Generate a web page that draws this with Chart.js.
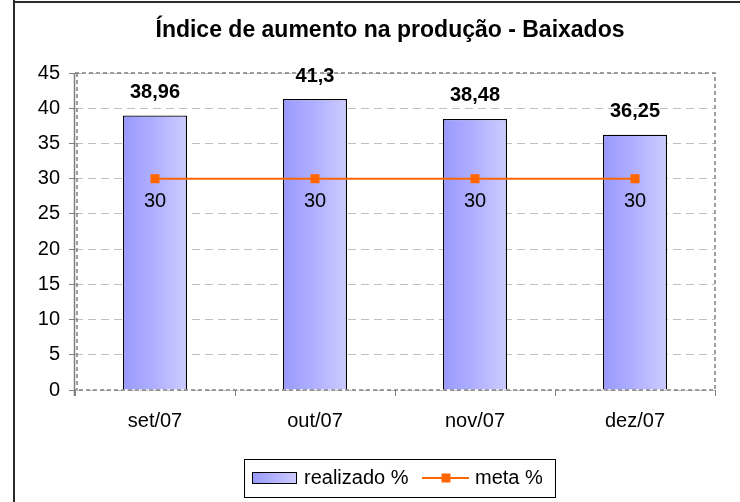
<!DOCTYPE html>
<html>
<head>
<meta charset="utf-8">
<script src="https://cdn.jsdelivr.net/npm/chart.js@4"></script>
<style>
  html,body{margin:0;padding:0;background:#fff;}
  #wrap{width:740px;height:502px;}
</style>
</head>
<body>
<div id="wrap"><canvas id="c" width="740" height="502"></canvas></div>
<script>
// --- Data ---
const months = ['set/07','out/07','nov/07','dez/07'];
const realizado = [38.96, 41.3, 38.48, 36.25];
const meta = [30, 30, 30, 30];
const titleText = 'Índice de aumento na produção - Baixados';
const legendNames = ['realizado %','meta %'];

const FONT = '"Liberation Sans", Arial, sans-serif';
const fmt = v => String(v).replace('.', ',');

function barGradient(ctx){
  const chart = ctx.chart;
  if(!chart.scales.x || ctx.type !== 'data') return '#b0b0ff';
  const x = chart.scales.x.getPixelForValue(ctx.dataIndex);
  if(!isFinite(x)) return '#b0b0ff';
  const g = chart.ctx.createLinearGradient(x-32,0,x+32,0);
  g.addColorStop(0,'#9999ff');
  g.addColorStop(0.5,'#b0b0ff');
  g.addColorStop(1,'#ccccff');
  return g;
}

// frame, title, plot border, labels, legend
const decor = {
  id:'decor',
  beforeDraw(chart){
    const c=chart.ctx;
    c.save();
    c.fillStyle='#fff';
    c.fillRect(0,0,chart.width,chart.height);
    c.fillStyle='#2a2a2a';
    c.fillRect(13,0,2,chart.height);
    c.fillRect(13,1,chart.width-13,2);
    c.fillStyle='#000';
    c.font='bold 23px '+FONT;
    c.textAlign='center';c.textBaseline='middle';
    c.fillText(titleText,390,31);
    c.restore();
  },
  afterDatasetsDraw(chart){
    const c=chart.ctx, a=chart.chartArea;
    c.save();
    // solid y axis line
    c.strokeStyle='#808080';c.lineWidth=1.5;
    c.beginPath();c.moveTo(a.left-0.5,a.top);c.lineTo(a.left-0.5,a.bottom+6);c.stroke();
    // dashed plot border
    c.setLineDash([4,3]);
    c.beginPath();
    c.moveTo(a.left,a.top);c.lineTo(a.right,a.top);c.lineTo(a.right,a.bottom);c.lineTo(a.left,a.bottom);
    c.moveTo(a.left+2,a.top);c.lineTo(a.left+2,a.bottom);
    c.stroke();
    c.setLineDash([]);
    // bar value labels
    c.fillStyle='#000';c.textAlign='center';c.textBaseline='middle';
    c.font='bold 20px '+FONT;
    chart.getDatasetMeta(1).data.forEach((el,i)=>{
      c.fillText(fmt(realizado[i]),el.x,el.y-23);
    });
    c.font='20px '+FONT;
    chart.getDatasetMeta(0).data.forEach((el,i)=>{
      c.fillText(fmt(meta[i]),el.x,el.y+23);
    });
    // legend
    c.strokeStyle='#000';c.lineWidth=1;
    c.strokeRect(244.5,459.5,311,38);
    const g=c.createLinearGradient(252,0,297,0);
    g.addColorStop(0,'#9999ff');g.addColorStop(1,'#ccccff');
    c.fillStyle=g;c.fillRect(252,472,45,11);
    c.strokeRect(252.5,472.5,44,11);
    c.fillStyle='#000';c.textAlign='left';
    c.fillText(legendNames[0],304,478);
    c.strokeStyle='#ff6600';c.lineWidth=2;
    c.beginPath();c.moveTo(422,478);c.lineTo(469,478);c.stroke();
    c.fillStyle='#ff6600';c.fillRect(441.5,473.5,9,9);
    c.fillStyle='#000';
    c.fillText(legendNames[1],475,478);
    c.restore();
  }
};

new Chart(document.getElementById('c').getContext('2d'),{
  data:{
    labels:months,
    datasets:[
      {type:'line',label:legendNames[1],data:meta,borderColor:'#ff6600',borderWidth:2,
       pointStyle:'rect',pointRadius:5,pointBackgroundColor:'#ff6600',pointBorderColor:'#ff6600',order:0},
      {type:'bar',label:legendNames[0],data:realizado,backgroundColor:barGradient,borderColor:'#000',borderWidth:1.3,
       barPercentage:0.4,categoryPercentage:1,order:1}
    ]
  },
  options:{
    responsive:false,animation:false,
    layout:{padding:{left:0,right:25,top:73,bottom:72}},
    plugins:{legend:{display:false},title:{display:false},tooltip:{enabled:false}},
    scales:{
      x:{
        offset:true,
        grid:{offset:true,drawOnChartArea:false,drawTicks:true,tickLength:6,color:'#808080',tickColor:'#808080'},
        border:{display:false},
        ticks:{color:'#000',font:{family:FONT,size:20},padding:13},
        afterFit(s){s.height=40;}
      },
      y:{
        min:0,max:45,
        ticks:{stepSize:5,color:'#000',font:{family:FONT,size:20},padding:9},
        grid:{color:'#c0c0c0',tickColor:'#808080',tickLength:6,lineWidth:1,drawTicks:true},
        border:{display:false,dash:[8,5]},
        afterFit(s){s.width=75;}
      }
    }
  },
  plugins:[decor]
});
</script>
</body>
</html>
